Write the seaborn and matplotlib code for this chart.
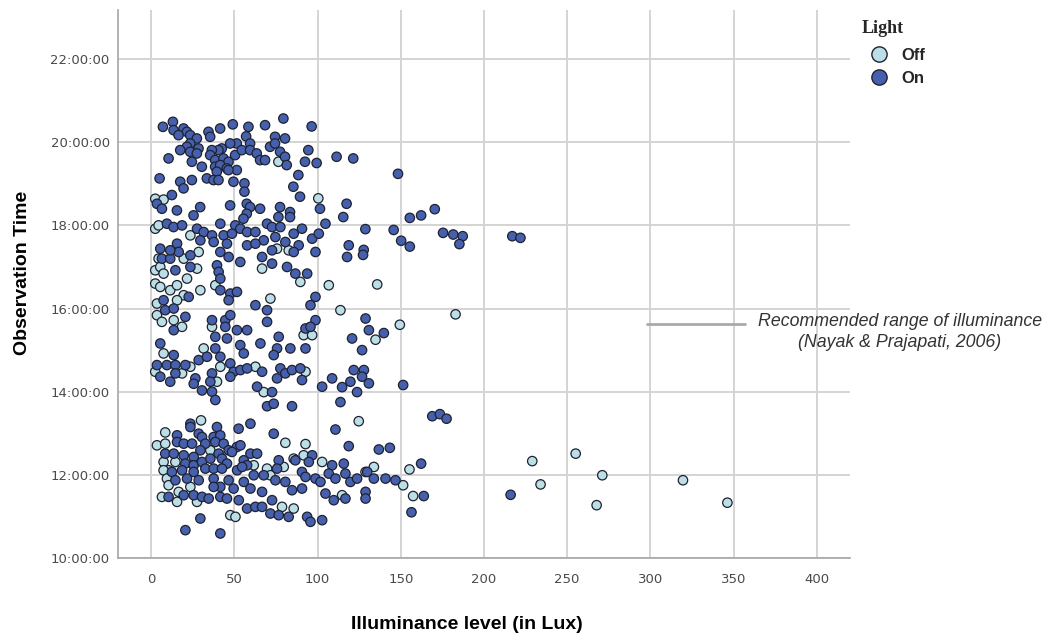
import numpy as np
import pandas as pd
import matplotlib
matplotlib.use("Agg")
import matplotlib.pyplot as plt
import seaborn as sns
from matplotlib.lines import Line2D
from matplotlib.ticker import FuncFormatter

# ---------------- data (lux, decimal hour) ----------------
on_lux = [
    7.0, 13.0, 13.4, 19.4, 21.4, 23.4, 16.4, 27.4, 34.4, 35.4, 41.4, 49.0, 58.4, 57.0, 68.4, 79.4, 96.4,
    51.4, 47.4, 42.4, 40.4, 36.4, 28.4, 23.4, 21.4, 17.4, 23.4, 27.4, 35.4, 38.4, 43.4, 46.4, 50.4, 54.4,
    59.4, 59.4, 63.4, 65.4, 68.4, 71.4, 74.4, 74.4, 80.4, 77.4, 80.4, 81.4, 94.4, 92.4, 99.4, 111.4, 121.4,
    10.4, 24.4, 30.4, 38.4, 41.4, 45.4, 51.4, 39.4, 46.4, 88.4, 85.4, 89.4, 101.4, 117.4, 115.4, 5.0, 17.4,
    19.4, 24.4, 33.4, 37.4, 40.4, 49.4, 56.0, 56.0, 3.4, 12.4, 6.4, 15.4, 25.4, 29.4, 47.4, 57.4, 59.4,
    65.4, 57.4, 55.4, 77.4, 83.4, 76.4, 83.4,
    148.3, 128.7, 145.7, 155.4, 162.2, 170.4, 175.4, 181.5, 187.2, 185.2, 217.0, 221.9, 150.2, 155.4,
    127.7, 127.3,
    9.4, 13.4, 18.5, 27.5, 31.5, 29.5, 36.5, 37.5, 41.5, 43.5, 45.5, 50.5, 48.5, 53.5, 57.6, 62.6, 67.6,
    69.6, 72.6, 77.6, 74.6, 80.6, 85.6, 90.6, 88.6, 96.7, 100.7, 104.7, 57.6, 62.6, 72.6, 85.6, 98.7,
    118.7, 117.7, 41.5, 46.5, 53.5, 66.6, 72.6, 81.6, 86.6, 93.7, 5.4, 6.4, 11.4, 15.5, 16.5, 23.5, 11.4,
    14.5, 23.5, 39.5, 40.5, 41.5, 22.5, 41.5, 47.5, 51.5, 46.5, 62.6, 69.6, 69.6, 98.7, 95.7, 7.4, 8.4,
    13.5, 13.5, 20.5, 36.5, 44.5, 47.5, 44.5, 38.5, 45.5, 51.5, 57.6, 76.6, 92.7, 98.7, 95.7, 120.7, 5.4,
    53.5, 75.6, 92.7,
    128.8, 130.8, 139.8, 126.7, 121.7, 127.8, 126.7, 130.8, 119.7, 114.7, 108.7, 123.7, 151.4, 168.9,
    173.5, 177.5,
    13.5, 3.4, 9.4, 14.5, 14.5, 5.4, 11.4, 20.5, 28.5, 33.5, 38.5, 41.5, 36.5, 26.5, 25.5, 30.5, 35.5,
    36.5, 47.5, 49.5, 53.6, 57.6, 55.6, 66.6, 47.5, 65.6, 73.6, 77.6, 80.6, 84.6, 89.6, 75.6, 90.6, 83.6,
    63.6, 72.6, 102.7,
    38.5, 69.6, 73.6, 84.6, 113.7, 110.7, 118.7, 23.5, 23.5, 39.5, 52.5, 59.6, 15.5, 28.5, 30.5, 37.5,
    41.5, 73.6, 15.5, 19.5, 24.5, 32.5, 38.5, 43.5, 29.5, 40.5, 46.5, 51.5, 53.6, 8.4, 13.5, 19.5, 25.5,
    20.5, 25.5, 30.5, 35.5, 42.5, 45.5, 48.5, 55.6, 59.6, 63.6, 57.6, 76.6, 75.6, 86.6, 96.7, 94.7, 108.7,
    115.7, 12.4, 18.5, 25.5, 32.5, 37.5, 42.5, 51.6, 54.6, 61.6, 67.6, 74.6, 80.6, 90.6, 92.7, 98.7,
    101.7, 106.7, 110.7, 116.7, 119.7, 123.7, 14.5, 21.5, 28.5, 37.5, 41.5, 37.5, 46.5, 49.5, 55.6, 59.6,
    66.6, 84.6, 90.6, 104.7, 109.7, 116.7, 10.4, 19.5, 25.5, 30.5, 34.5, 41.5, 45.5, 52.6, 57.6, 62.6,
    66.6, 72.6, 71.6, 76.6, 82.6, 93.7, 95.7, 102.7, 29.5, 20.5, 41.5,
    136.8, 143.4, 162.2, 129.8, 133.8, 140.8, 146.8, 128.8, 128.8, 163.8, 156.4, 216.0,
]
on_time = [
    20.37, 20.49, 20.29, 20.33, 20.25, 20.17, 20.17, 20.09, 20.25, 20.13, 20.33, 20.43, 20.37, 20.14, 20.41, 20.57, 20.38,
    19.97, 19.97, 19.85, 19.81, 19.81, 19.85, 19.97, 19.89, 19.81, 19.77, 19.73, 19.69, 19.57, 19.61, 19.53, 19.69, 19.81,
    19.97, 19.81, 19.73, 19.57, 19.57, 19.89, 20.13, 19.97, 20.09, 19.77, 19.65, 19.45, 19.81, 19.53, 19.50, 19.65, 19.61,
    19.61, 19.53, 19.41, 19.41, 19.45, 19.37, 19.33, 19.29, 19.33, 19.21, 18.93, 18.69, 18.40, 18.52, 18.20, 19.13, 19.05,
    18.89, 19.09, 19.13, 19.09, 19.09, 19.05, 19.01, 18.81, 18.52, 18.73, 18.40, 18.36, 18.24, 18.44, 18.48, 18.52, 18.44,
    18.40, 18.28, 18.16, 18.44, 18.32, 18.20, 18.20,
    19.24, 17.91, 17.89, 18.18, 18.24, 18.39, 17.82, 17.78, 17.74, 17.55, 17.74, 17.70, 17.63, 17.49,
    17.41, 17.29,
    18.04, 17.96, 18.00, 17.92, 17.84, 17.64, 17.76, 17.60, 18.04, 17.76, 17.56, 18.00, 17.80, 17.92, 17.84, 17.84, 17.64,
    18.04, 17.96, 17.96, 17.72, 17.60, 17.80, 17.92, 17.52, 17.68, 17.80, 18.04, 17.52, 17.56, 17.40, 17.36, 17.36,
    17.52, 17.24, 17.36, 17.24, 17.12, 17.24, 17.08, 17.00, 16.84, 16.84, 17.44, 17.20, 17.20, 17.56, 17.36, 17.28, 17.40,
    16.92, 17.00, 17.04, 16.88, 16.72, 16.28, 16.44, 16.36, 16.40, 16.20, 16.08, 15.96, 15.68, 16.28, 16.08, 16.20, 15.96,
    16.00, 15.48, 15.80, 15.72, 15.72, 15.84, 15.56, 15.32, 15.28, 15.48, 15.48, 15.32, 15.52, 15.72, 15.56, 15.28, 15.16,
    15.12, 15.04, 15.04,
    15.76, 15.48, 15.41, 15.00, 14.52, 14.52, 14.36, 14.20, 14.24, 14.11, 14.32, 13.99, 14.16, 13.41,
    13.46, 13.35,
    14.88, 14.64, 14.64, 14.64, 14.44, 14.36, 14.24, 14.64, 14.76, 14.84, 15.04, 14.84, 14.44, 14.32, 14.19, 14.03, 14.24,
    14.00, 14.68, 14.48, 14.52, 14.56, 14.92, 14.48, 14.36, 15.16, 14.88, 14.56, 14.44, 14.52, 14.56, 14.32, 14.28, 15.04,
    14.12, 13.99, 14.12,
    13.80, 13.65, 13.71, 13.65, 13.75, 13.09, 12.69, 13.23, 13.15, 13.15, 13.11, 13.23, 12.95, 12.99, 12.91, 12.91,
    12.95, 12.99, 12.79, 12.75, 12.75, 12.75, 12.79, 12.75, 12.59, 12.51, 12.59, 12.67, 12.71, 12.51, 12.51, 12.47, 12.43,
    12.27, 12.23, 12.31, 12.39, 12.39, 12.27, 12.55, 12.35, 12.51, 12.51, 12.23, 12.35, 12.15, 12.35, 12.47, 12.31, 12.23,
    12.27, 12.07, 12.11, 12.07, 12.15, 12.15, 12.15, 12.11, 12.19, 11.99, 11.99, 11.87, 11.83, 12.07, 11.95, 11.91,
    11.83, 12.03, 11.91, 12.03, 11.83, 11.91, 11.87, 11.91, 11.87, 11.91, 11.71, 11.71, 11.87, 11.67, 11.83, 11.67,
    11.59, 11.63, 11.67, 11.55, 11.39, 11.43, 11.47, 11.51, 11.51, 11.47, 11.43, 11.47, 11.43, 11.39, 11.19, 11.23,
    11.23, 11.39, 11.07, 11.03, 10.99, 10.99, 10.87, 10.91, 10.95, 10.67, 10.59,
    12.61, 12.65, 12.27, 12.07, 11.91, 11.91, 11.87, 11.59, 11.43, 11.49, 11.10, 11.52,
]

off_lux = [
    76.4, 100.4, 2.4, 7.4,
    2.4, 4.4, 23.5, 75.6, 82.6, 66.6, 89.6, 106.7, 4.4, 19.5, 28.5, 2.4, 5.4, 7.4, 27.5, 21.5, 2.4, 5.4,
    11.4, 15.5, 19.5, 29.5, 38.5, 71.6, 113.7, 3.4, 15.5, 3.4, 6.4, 13.5, 18.5, 36.5, 91.6, 96.7, 31.5,
    135.8, 134.8, 149.4, 182.9, 124.7,
    7.4, 2.4, 18.5, 23.5, 41.5, 39.5, 62.6, 92.7, 67.6, 29.9, 8.4,
    3.4, 8.4, 35.5, 80.6, 92.7, 14.5, 61.6, 69.6, 79.6, 85.6, 91.6, 102.7, 7.4, 10.4, 7.4, 71.6, 9.4,
    10.4, 16.5, 23.5, 114.7, 6.4, 15.5, 27.5, 78.6, 85.6, 47.5, 50.6,
    155.2, 133.8, 128.8, 151.4, 157.4, 229.0, 234.0, 255.1, 271.1, 267.7, 319.6, 346.3,
]
off_time = [
    19.53, 18.65, 18.64, 18.62,
    17.92, 18.00, 17.76, 17.44, 17.40, 16.96, 16.64, 16.56, 17.20, 17.20, 17.36, 16.92, 17.00, 16.84, 16.96, 16.72, 16.60, 16.52,
    16.44, 16.56, 16.32, 16.44, 16.56, 16.24, 15.96, 16.12, 16.20, 15.84, 15.68, 15.72, 15.56, 15.56, 15.36, 15.36, 15.04,
    16.58, 15.25, 15.61, 15.86, 13.29,
    14.92, 14.48, 14.44, 14.60, 14.60, 14.24, 14.60, 14.48, 13.99, 13.31, 13.02,
    12.71, 12.75, 12.59, 12.77, 12.74, 12.31, 12.23, 12.15, 12.19, 12.39, 12.47, 12.31, 12.31, 12.11, 12.11, 11.99, 11.91,
    11.75, 11.59, 11.71, 11.51, 11.47, 11.35, 11.35, 11.23, 11.19, 11.03, 10.99,
    12.13, 12.19, 12.07, 11.75, 11.49, 12.33, 11.77, 12.51, 11.99, 11.27, 11.87, 11.33,
]

categories = ["Off", "On"]
palette = {"Off": "#bcdfe6", "On": "#4660ad"}
y_ticks = [10, 12, 14, 16, 18, 20, 22]
x_ticks = [0, 50, 100, 150, 200, 250, 300, 350, 400]
ref_line_x = [298, 357]
ref_line_y = 15.63
ref_text = "Recommended range of illuminance\n(Nayak & Prajapati, 2006)"

df = pd.DataFrame({
    "lux": off_lux + on_lux,
    "time": off_time + on_time,
    "Light": ["Off"] * len(off_lux) + ["On"] * len(on_lux),
})

# ---------------- figure ----------------
sns.set_style("white")
plt.rcParams["font.family"] = ["Liberation Sans", "DejaVu Sans"]

fig = plt.figure(figsize=(10.47, 6.35), dpi=100)
ax = fig.add_axes([118 / 1047, 77 / 635, 732 / 1047, 548 / 635])

sns.scatterplot(data=df, x="lux", y="time", hue="Light", hue_order=categories,
                palette=palette, s=46, edgecolor="#1e2230", linewidth=0.9,
                ax=ax, legend=False, zorder=3)

ax.set_xlim(-20, 420)
ax.set_ylim(10, 23.18)
ax.set_xticks(x_ticks)
ax.set_yticks(y_ticks)
ax.yaxis.set_major_formatter(FuncFormatter(lambda v, _: f"{int(round(v)):02d}:00:00"))
ax.grid(True, color="#d4d4d4", linewidth=1.4, zorder=0)
ax.set_axisbelow(True)
for side in ["top", "right"]:
    ax.spines[side].set_visible(False)
for side in ["left", "bottom"]:
    ax.spines[side].set_color("#a6a6a6")
    ax.spines[side].set_linewidth(1.2)
ax.tick_params(axis="both", length=0, labelsize=9.5, labelcolor="#4a4a4a")
ax.tick_params(axis="x", pad=11)
ax.tick_params(axis="y", pad=6)
for lab in ax.get_xticklabels() + ax.get_yticklabels():
    lab.set_family("DejaVu Sans")

ax.set_xlabel("Illuminance level (in Lux)", fontsize=14, fontweight="bold",
              labelpad=20, color="black")
ax.xaxis.set_label_coords(0.477, -0.105)
ax.set_ylabel("Observation Time", fontsize=14, fontweight="bold",
              labelpad=14, color="black")
ax.yaxis.label.set_y(0.52)

# reference range annotation
ax.plot(ref_line_x, [ref_line_y, ref_line_y], color="#a9a9a9", linewidth=2, zorder=2)
fig.text(900 / 1047, 1 - 332 / 635, ref_text, ha="center", va="center",
         multialignment="center", fontsize=12.8, style="italic", color="#333333",
         linespacing=1.35)

# legend
handles = [Line2D([0], [0], marker="o", linestyle="", markersize=11,
                  markerfacecolor=palette[c], markeredgecolor="#1e2230",
                  markeredgewidth=1.0, label=c) for c in categories]
leg = fig.legend(handles=handles, title="Light", loc="upper left",
                 bbox_to_anchor=(862 / 1047, 1 - 20 / 635), frameon=False,
                 prop={"weight": "bold", "size": 12}, handletextpad=0.35,
                 labelspacing=0.45, borderaxespad=0, alignment="left",
                 borderpad=0)
leg.get_title().set_fontfamily(["Liberation Serif", "DejaVu Serif"])
leg.get_title().set_fontweight("bold")
leg.get_title().set_fontsize(13)
leg._legend_box.sep = 8

fig.savefig("out.png", dpi=100)
